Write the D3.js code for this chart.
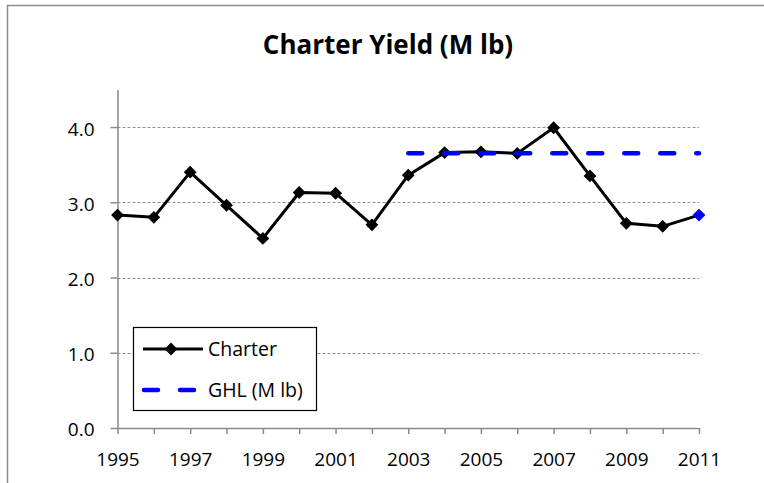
<!DOCTYPE html>
<html>
<head>
<meta charset="utf-8">
<script src="https://cdn.jsdelivr.net/npm/d3@7"></script>
<style>
  html, body { margin: 0; padding: 0; background: #fff; }
  svg { display: block; font-family: "Open Sans", "Liberation Sans", sans-serif; }
</style>
</head>
<body>
<svg id="chart" width="764" height="483"></svg>
<script>
// ---- data ----
const years = [1995, 1996, 1997, 1998, 1999, 2000, 2001, 2002, 2003, 2004, 2005, 2006, 2007, 2008, 2009, 2010, 2011];
const charter = [2.83, 2.80, 3.40, 2.96, 2.52, 3.13, 3.12, 2.70, 3.36, 3.66, 3.67, 3.65, 3.99, 3.35, 2.72, 2.68, 2.83];
const ghlYears = [2003, 2004, 2005, 2006, 2007, 2008, 2009, 2010, 2011];
const ghl = [3.65, 3.65, 3.65, 3.65, 3.65, 3.65, 3.65, 3.65, 3.65];
const yTicks = [0, 1, 2, 3, 4];
const xLabelYears = [1995, 1997, 1999, 2001, 2003, 2005, 2007, 2009, 2011];
const seriesNames = ["Charter", "GHL (M lb)"];
const title = "Charter Yield (M lb)";

// ---- layout ----
const svg = d3.select("#chart");
const plotL = 117.5, plotR = 699, plotT = 89.4, plotB = 428;

const x = d3.scaleLinear().domain([1995, 2011]).range([plotL, plotR]);
const y = d3.scaleLinear().domain([0, 4.5]).range([plotB, plotT]);

// outer chart border (cut off at right/bottom like reference)
svg.append("rect")
  .attr("x", 7.5).attr("y", 5.5).attr("width", 800).attr("height", 500)
  .attr("fill", "none").attr("stroke", "#8a8a8a").attr("stroke-width", 1.5);

// title
svg.append("text")
  .attr("x", 388).attr("y", 54)
  .attr("text-anchor", "middle")
  .attr("font-size", 26).attr("font-weight", "bold")
  .text(title);

// gridlines
svg.append("g").selectAll("line")
  .data(yTicks.filter(d => d > 0))
  .join("line")
  .attr("x1", plotL).attr("x2", plotR)
  .attr("y1", d => Math.round(y(d)) + 0.5).attr("y2", d => Math.round(y(d)) + 0.5)
  .attr("stroke", "#8c8c8c").attr("stroke-width", 1)
  .attr("stroke-dasharray", "3,2");

// y axis
const yAxis = svg.append("g")
  .attr("transform", `translate(${plotL},0)`)
  .call(d3.axisLeft(y).tickValues(yTicks).tickSize(7).tickSizeOuter(0).tickPadding(16).tickFormat(d3.format(".1f")));
yAxis.select(".domain").attr("stroke", "#8a8a8a").attr("stroke-width", 1.5);
yAxis.selectAll(".tick line").attr("stroke", "#8a8a8a").attr("stroke-width", 1.5);
yAxis.selectAll(".tick text").attr("font-size", 19).attr("fill", "#000")
  .attr("font-family", "Open Sans").attr("dy", "0.42em");

// x axis
const xAxis = svg.append("g")
  .attr("transform", `translate(0,${plotB})`)
  .call(d3.axisBottom(x).tickValues(years).tickSize(6).tickSizeOuter(0)
    .tickFormat(d => xLabelYears.includes(d) ? String(d) : ""));
xAxis.select(".domain").attr("stroke", "#8a8a8a").attr("stroke-width", 1.5);
xAxis.selectAll(".tick line").attr("stroke", "#8a8a8a").attr("stroke-width", 1.5);
xAxis.selectAll(".tick text").attr("font-size", 19).attr("fill", "#000")
  .attr("font-family", "Open Sans").attr("y", 25).attr("dy", "0.71em");

// Charter line
const charterData = years.map((yr, i) => ({ yr, v: charter[i] }));
const line = d3.line().x(d => x(d.yr)).y(d => y(d.v));
svg.append("path")
  .datum(charterData)
  .attr("d", line)
  .attr("fill", "none").attr("stroke", "#000").attr("stroke-width", 3)
  .attr("stroke-linejoin", "round");

const diamond = d3.symbol().type(d3.symbolDiamond2).size(105);
svg.append("g").selectAll("path")
  .data(charterData)
  .join("path")
  .attr("d", diamond)
  .attr("transform", d => `translate(${x(d.yr)},${y(d.v)})`)
  .attr("fill", (d, i) => i === charterData.length - 1 ? "#0000ff" : "#000");

// GHL dashed line
const ghlData = ghlYears.map((yr, i) => ({ yr, v: ghl[i] }));
svg.append("path")
  .datum(ghlData)
  .attr("d", line)
  .attr("fill", "none").attr("stroke", "#0000ff").attr("stroke-width", 4.5)
  .attr("stroke-linecap", "round")
  .attr("stroke-dasharray", "14,22");

// legend
const lg = svg.append("g");
lg.append("rect")
  .attr("x", 133.5).attr("y", 327.5).attr("width", 183).attr("height", 83)
  .attr("fill", "#fff").attr("stroke", "#000").attr("stroke-width", 1.2);
lg.append("line")
  .attr("x1", 143).attr("x2", 203).attr("y1", 349).attr("y2", 349)
  .attr("stroke", "#000").attr("stroke-width", 3);
lg.append("path").attr("d", diamond).attr("transform", "translate(171,349)").attr("fill", "#000");
lg.append("line")
  .attr("x1", 144).attr("x2", 194).attr("y1", 390).attr("y2", 390)
  .attr("stroke", "#0000ff").attr("stroke-width", 4.5)
  .attr("stroke-linecap", "round").attr("stroke-dasharray", "14,22");
lg.selectAll("text.lbl")
  .data(seriesNames)
  .join("text")
  .attr("class", "lbl")
  .attr("x", 208)
  .attr("y", (d, i) => i === 0 ? 349 : 390)
  .attr("dy", "0.36em")
  .attr("font-size", 19.5)
  .text(d => d);
</script>
</body>
</html>
